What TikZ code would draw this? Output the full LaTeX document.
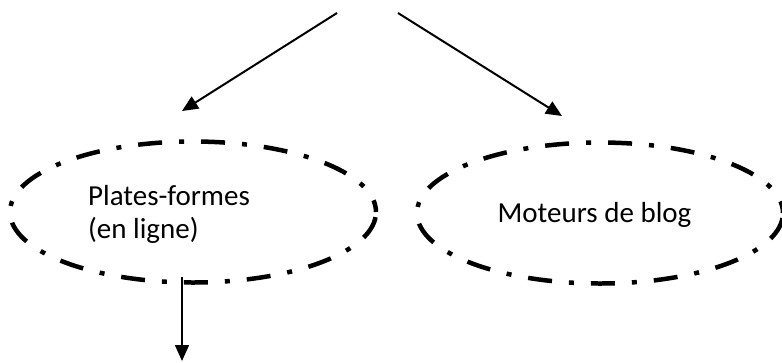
\documentclass[tikz,border=0pt]{standalone}
\usepackage{fontspec}
\setmainfont{Carlito}
\usetikzlibrary{arrows.meta,shapes.geometric}
\newcommand{\lblsize}{\fontsize{29bp}{33bp}\selectfont}
\begin{document}
\begin{tikzpicture}[x=1bp,y=-1bp,
  oval/.style={ellipse,draw,line width=4.5bp,dash pattern=on 24bp off 17bp on 5bp off 17bp,dash phase=12bp,minimum width=366bp,minimum height=141bp,inner sep=0pt},
  arr/.style={line width=2bp,-{Triangle[length=16bp,width=14bp]}},
  lbl/.style={font=\lblsize,align=left,inner sep=0pt}]
\useasboundingbox (0,0) rectangle (782,362);
\clip (0,0) rectangle (782,362);
\node[oval] (pf) at (193,212) {};
\node[oval] (mb) at (600,213) {};
\node[lbl,anchor=base west] (t1) at (88,238) {Plates-formes\\(en ligne)};
\node[lbl,anchor=base] (t2) at (594.5,222) {Moteurs de blog};
\coordinate (s1) at (337,13);
\coordinate (e1) at (182,111);
\coordinate (s2) at (398,13);
\coordinate (e2) at (562,116);
\coordinate (s3) at (182,277);
\coordinate (e3) at (182,361);
\draw[arr] (s1) -- (e1);
\draw[arr] (s2) -- (e2);
\draw[arr,line width=1.6bp] (s3) -- (e3);
\end{tikzpicture}
\end{document}
